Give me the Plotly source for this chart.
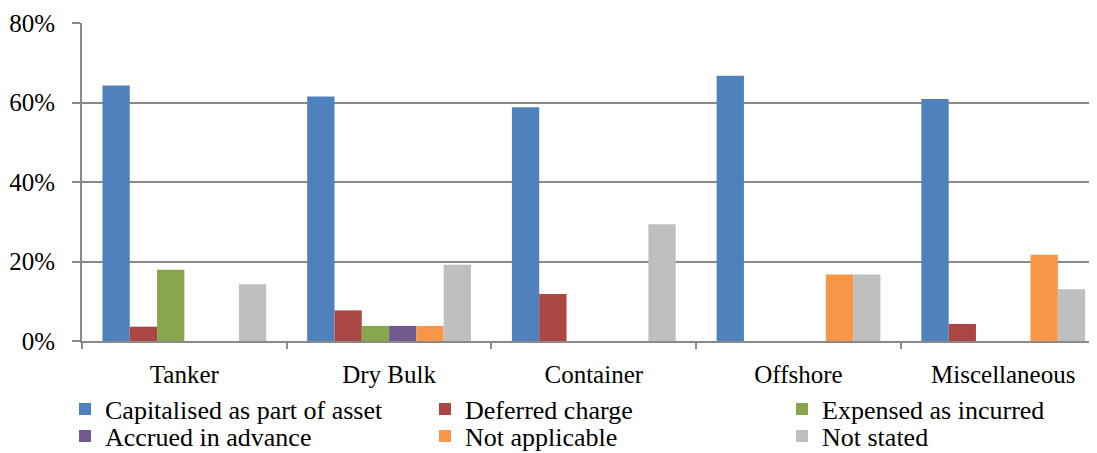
import plotly.graph_objects as go

categories = ["Tanker", "Dry Bulk", "Container", "Offshore", "Miscellaneous"]

series_names = [
    "Capitalised as part of asset",
    "Deferred charge",
    "Expensed as incurred",
    "Accrued in advance",
    "Not applicable",
    "Not stated",
]

capitalised = [64.3, 61.5, 58.8, 66.7, 60.9]
deferred = [3.6, 7.7, 11.8, 0, 4.3]
expensed = [17.9, 3.8, 0, 0, 0]
accrued = [0, 3.8, 0, 0, 0]
not_applicable = [0, 3.8, 0, 16.7, 21.7]
not_stated = [14.3, 19.2, 29.4, 16.7, 13.0]

y_ticks = [0, 20, 40, 60, 80]

series_values = [capitalised, deferred, expensed, accrued, not_applicable, not_stated]
colors = ["#4F81BD", "#AA4643", "#89A54E", "#71588F", "#F79646", "#BFBFBF"]

FONT = "Liberation Serif"
FS = 25
LEG_FS = 26
GRID = "#898989"
W, H = 1089, 445

# legend slots: (left px, row-center px) in figure coordinates
legend_ids = ["legend", "legend2", "legend3", "legend4", "legend5", "legend6"]
col_left = [57, 417, 774]
row_mid = [401, 428]
slots = [(col_left[i % 3], row_mid[i // 3]) for i in range(6)]

fig = go.Figure()
for name, vals, col, lg in zip(series_names, series_values, colors, legend_ids):
    fig.add_trace(go.Bar(
        x=categories, y=vals, name=name, legend=lg,
        marker=dict(color=col, line=dict(width=0)),
    ))

legends = {}
for lg, (lx, ly) in zip(legend_ids, slots):
    legends[lg] = dict(
        orientation="v", xref="container", yref="container",
        x=lx / W, xanchor="left", y=1 - ly / H, yanchor="middle",
        font=dict(family=FONT, size=LEG_FS, color="black"),
        itemwidth=30, bgcolor="rgba(0,0,0,0)",
    )

fig.update_layout(
    width=W, height=H,
    margin=dict(l=74, r=0, t=15, b=112, autoexpand=False),
    paper_bgcolor="white", plot_bgcolor="white",
    font=dict(family=FONT, size=FS, color="black"),
    barmode="group", bargap=0.2, bargroupgap=0,
    showlegend=True,
    **legends,
)

fig.update_xaxes(
    type="category", automargin=False,
    range=[-0.5, 4.458],
    tickson="boundaries",
    ticks="outside", ticklen=6, tickwidth=2, tickcolor=GRID,
    showline=True, linecolor=GRID, linewidth=2,
    showgrid=False,
    ticklabelstandoff=10,
    tickfont=dict(family=FONT, size=FS, color="black"),
)
fig.update_yaxes(
    automargin=False,
    range=[0, 80],
    tickvals=y_ticks, ticktext=[f"{v}%" for v in y_ticks],
    ticks="outside", ticklen=8, tickwidth=2, tickcolor=GRID,
    showline=True, linecolor=GRID, linewidth=2,
    showgrid=True, gridcolor=GRID, gridwidth=2,
    zeroline=False,
    ticklabelstandoff=12,
    tickfont=dict(family=FONT, size=FS, color="black"),
)

fig.write_html("out.html")
